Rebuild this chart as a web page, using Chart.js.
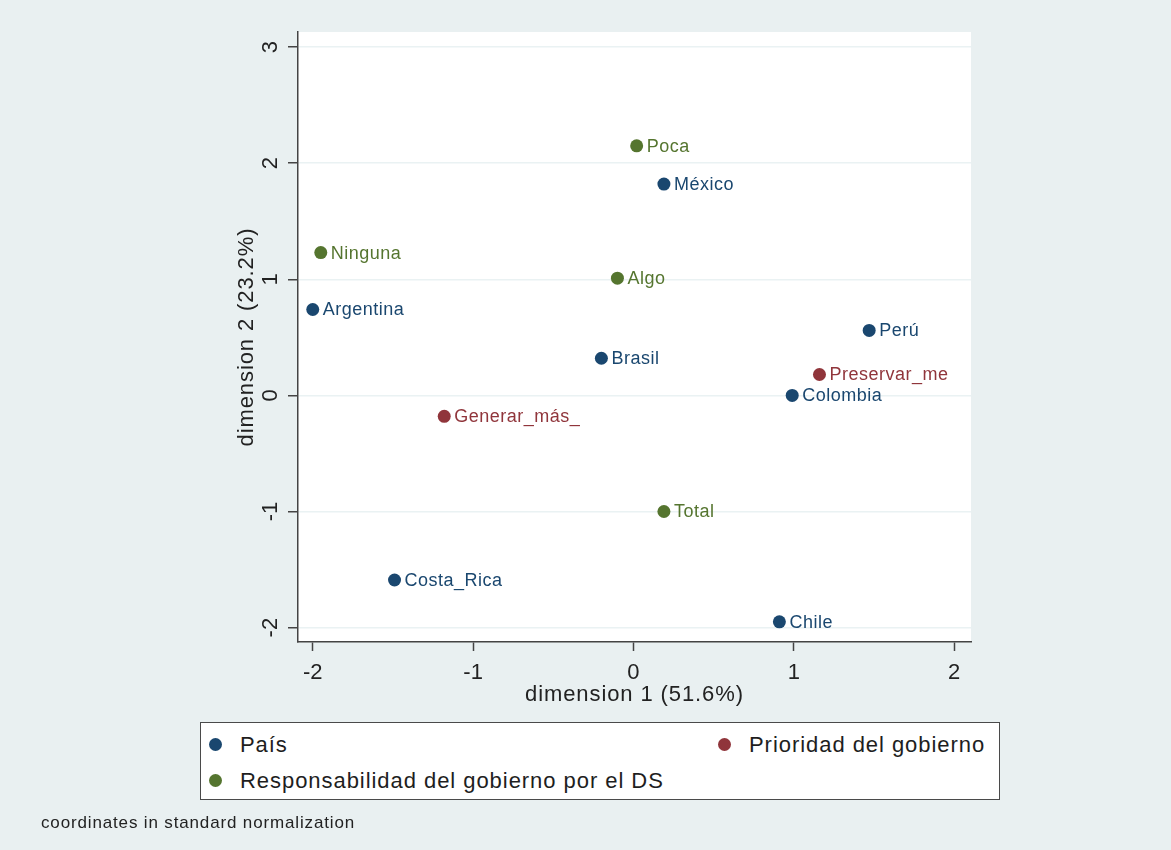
<!DOCTYPE html>
<html>
<head>
<meta charset="utf-8">
<script src="https://cdn.jsdelivr.net/npm/chart.js@4"></script>
<style>
  html, body { margin: 0; padding: 0; }
  body { width: 1171px; height: 850px; background: #e9f0f1; position: relative; overflow: hidden;
         font-family: "Liberation Sans", Arial, Helvetica, sans-serif; }
  #wrap { position: absolute; left: 0; top: 0; width: 1171px; height: 850px; }
  .legend { position: absolute; left: 200px; top: 722px; width: 798px; height: 76px;
            background: #ffffff; border: 1.5px solid #4a4a4a; }
  .item { position: absolute; font-size: 22px; letter-spacing: 0.95px; color: #1e1e1e; line-height: 24px; white-space: nowrap; }
  .dot { display: inline-block; width: 13px; height: 13px; border-radius: 50%; position: absolute; top: 5px; }
  .item span.t { position: absolute; left: 31px; top: 0; }
  .note { position: absolute; left: 41px; top: 813px; font-size: 17px; letter-spacing: 0.85px; color: #222; white-space: nowrap; }
</style>
</head>
<body>
<div id="wrap"><canvas id="c" width="1171" height="850"></canvas></div>
<div class="legend" id="legend"></div>
<div class="note">coordinates in standard normalization</div>
<script>
// Row points: countries
const paisNames = ['México', 'Argentina', 'Perú', 'Brasil', 'Colombia', 'Costa_Rica', 'Chile'];
const paisDim1  = [0.19, -2.00, 1.47, -0.20, 0.99, -1.49, 0.91];
const paisDim2  = [1.82, 0.74, 0.56, 0.32, 0.00, -1.59, -1.95];

// Column points: government priority
const prioridadNames = ['Preservar_me', 'Generar_más_'];
const prioridadDim1  = [1.16, -1.18];
const prioridadDim2  = [0.18, -0.18];

// Column points: government responsibility for sustainable development
const respNames = ['Poca', 'Ninguna', 'Algo', 'Total'];
const respDim1  = [0.02, -1.95, -0.10, 0.19];
const respDim2  = [2.15, 1.23, 1.01, -1.00];

// Axis ticks and ranges
const xTicks = [-2, -1, 0, 1, 2];
const yTicks = [-2, -1, 0, 1, 2, 3];
const xRange = [-2.092, 2.105];
const yRange = [-2.124, 3.13];

const seriesNames = ['País', 'Prioridad del gobierno', 'Responsabilidad del gobierno por el DS'];
const colors = ['#1a476f', '#90353b', '#55752f'];

const FONT = '"Liberation Sans", Arial, Helvetica, sans-serif';

function toPoints(xs, ys, names) {
  return xs.map((x, i) => ({ x: x, y: ys[i], name: names[i] }));
}

const datasets = [
  { label: seriesNames[0], data: toPoints(paisDim1, paisDim2, paisNames), color: colors[0] },
  { label: seriesNames[1], data: toPoints(prioridadDim1, prioridadDim2, prioridadNames), color: colors[1] },
  { label: seriesNames[2], data: toPoints(respDim1, respDim2, respNames), color: colors[2] }
].map(d => ({
  label: d.label,
  data: d.data,
  backgroundColor: d.color,
  borderColor: d.color,
  borderWidth: 0,
  pointRadius: 6.5,
  pointHoverRadius: 6.5
}));

// White plot region behind the marks
const plotBackground = {
  id: 'plotBackground',
  beforeDraw(chart) {
    const a = chart.chartArea, ctx = chart.ctx;
    ctx.save();
    ctx.fillStyle = '#ffffff';
    ctx.fillRect(a.left, a.top, a.right - a.left, a.bottom - a.top);
    ctx.restore();
  }
};

// Rotated y tick labels and both axis titles
const axisText = {
  id: 'axisText',
  afterDraw(chart) {
    const ctx = chart.ctx, a = chart.chartArea;
    const ys = chart.scales.y;
    ctx.save();
    ctx.fillStyle = '#222';
    ctx.font = '22px ' + FONT;
    ctx.textAlign = 'center';
    ctx.textBaseline = 'middle';
    yTicks.forEach(v => {
      const py = ys.getPixelForValue(v);
      ctx.save();
      ctx.translate(271, py);
      ctx.rotate(-Math.PI / 2);
      ctx.fillText(String(v), 0, 0);
      ctx.restore();
    });
    ctx.letterSpacing = '0.9px';
    // y title
    ctx.save();
    ctx.translate(247, (a.top + a.bottom) / 2);
    ctx.rotate(-Math.PI / 2);
    ctx.fillText('dimension 2 (23.2%)', 0, 0);
    ctx.restore();
    // x title
    ctx.fillText('dimension 1 (51.6%)', (a.left + a.right) / 2, 695);
    ctx.restore();
  }
};

// Point labels to the right of each marker
const pointLabels = {
  id: 'pointLabels',
  afterDatasetsDraw(chart) {
    const ctx = chart.ctx;
    ctx.save();
    ctx.font = '18px ' + FONT;
    ctx.letterSpacing = '0.5px';
    ctx.textAlign = 'left';
    ctx.textBaseline = 'middle';
    chart.data.datasets.forEach((ds, di) => {
      const meta = chart.getDatasetMeta(di);
      ctx.fillStyle = ds.backgroundColor;
      meta.data.forEach((el, i) => {
        ctx.fillText(ds.data[i].name, el.x + 10, el.y + 1);
      });
    });
    ctx.restore();
  }
};

new Chart(document.getElementById('c'), {
  type: 'scatter',
  data: { datasets: datasets },
  plugins: [plotBackground, pointLabels, axisText],
  options: {
    responsive: false,
    animation: false,
    events: [],
    layout: { padding: { left: 0, top: 32, right: 200, bottom: 0 } },
    plugins: { legend: { display: false }, tooltip: { enabled: false } },
    scales: {
      x: {
        type: 'linear',
        min: xRange[0], max: xRange[1],
        afterBuildTicks(s) { s.ticks = xTicks.map(v => ({ value: v })); },
        afterFit(s) { s.height = 208; },
        border: { display: true, color: '#444', width: 1.5 },
        grid: { drawOnChartArea: false, drawTicks: true, tickLength: 9, tickColor: '#444', tickWidth: 1.5 },
        ticks: { color: '#222', font: { family: FONT, size: 22 }, padding: 9, maxRotation: 0, minRotation: 0 }
      },
      y: {
        type: 'linear',
        min: yRange[0], max: yRange[1],
        afterBuildTicks(s) { s.ticks = yTicks.map(v => ({ value: v })); },
        afterFit(s) { s.width = 298; },
        border: { display: true, color: '#444', width: 1.5 },
        grid: { color: '#eaf2f3', lineWidth: 1.5, drawTicks: true, tickLength: 10, tickColor: '#444', tickWidth: 1.5 },
        ticks: { display: false }
      }
    }
  }
});

// Legend box
const legendEl = document.getElementById('legend');
const legendPos = [[8, 10], [517, 10], [8, 46]];
seriesNames.forEach((name, i) => {
  const it = document.createElement('div');
  it.className = 'item';
  it.style.left = legendPos[i][0] + 'px';
  it.style.top = legendPos[i][1] + 'px';
  const dot = document.createElement('span');
  dot.className = 'dot';
  dot.style.background = colors[i];
  const t = document.createElement('span');
  t.className = 't';
  t.textContent = name;
  it.appendChild(dot);
  it.appendChild(t);
  legendEl.appendChild(it);
});
</script>
</body>
</html>
